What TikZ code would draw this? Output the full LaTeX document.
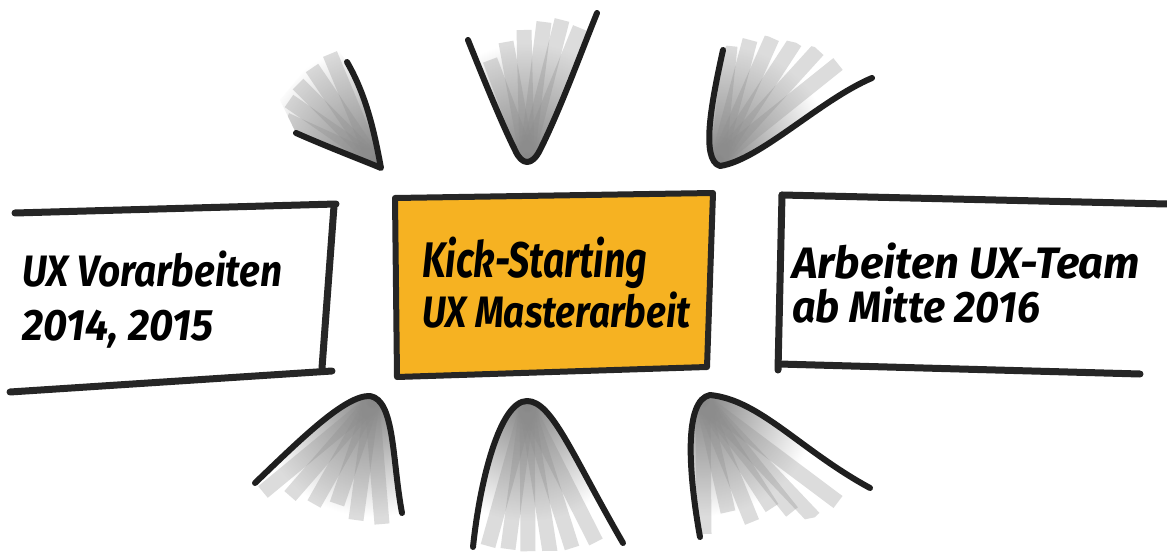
\documentclass[tikz,border=0pt]{standalone}
\usepackage{fontspec}
\usepackage{graphicx}
\newfontfamily\hand{Fira Sans}
\definecolor{marker}{RGB}{246,178,34}
\tikzset{
  ink/.style={line width=6pt, line cap=round, line join=round, draw=black!88},
  boxline/.style={line width=7pt, line cap=round, draw=black!85},
  ray/.style={line width=15pt, draw=black!45, opacity=0.3},
  txt/.style={anchor=base west, inner sep=0pt, font=\hand\bfseries\itshape\fontsize{44}{50}\selectfont},
}
\newcommand\hw[2]{\resizebox{#1}{\height}{#2}}
\newcommand\burst[5]{%
  \begin{scope}
    \clip #1 #2;
    \shade[inner color=black!48, outer color=white] (#3,#4) circle (115);
    \foreach \px/\py in {#5} {
      \draw[ray] (#3,#4) -- (\px,\py);
    }
  \end{scope}
  \draw[ink] #1;
}
\begin{document}
\begin{tikzpicture}[x=1pt,y=-1pt]
\useasboundingbox (0,0) rectangle (1167,556);
\fill[white] (0,0) rectangle (1167,556);

% left box
\draw[boxline] (15,213) -- (336,204);
\draw[boxline] (334,206) -- (322,368);
\draw[boxline] (10,392) -- (332,371);
\node[txt] (l1) at (22,287) {\hw{260pt}{UX Vorarbeiten}};
\node[txt] (l2) at (22,340) {\hw{191pt}{2014, 2015}};

% centre box
\filldraw[fill=marker, line width=6pt, line join=round, draw=black!85]
  (395,198) -- (713,193) -- (707,367) -- (397,377) -- cycle;
\node[txt, font=\hand\bfseries\itshape\fontsize{50}{56}\selectfont] (c1) at (422,277) {\hw{225pt}{Kick-Starting}};
\node[txt] (c2) at (422,327) {\hw{268pt}{UX Masterarbeit}};

% right box
\draw[boxline] (782,195) -- (1167,204);
\draw[boxline] (782,195) -- (778,370);
\draw[boxline] (779,364) -- (1140,374);
\node[txt] (r1) at (792,278) {\hw{348pt}{Arbeiten UX-Team}};
\node[txt] (r2) at (792,322) {\hw{248pt}{ab Mitte 2016}};

% bursts
\burst{(296,133) .. controls (330,148) and (362,160) .. (381,168) .. controls (374,130) and (366,95) .. (347,62)}
  {-- (330,40) -- (280,100) -- cycle}{374}{160}
  {286/120,289/101,298/84,312/68,330/54}
\burst{(468,40) .. controls (490,95) and (505,130) .. (515,150) .. controls (522,166) and (532,166) .. (540,150) .. controls (560,110) and (580,55) .. (597,13)}
  {-- (590,10) -- (470,25) -- cycle}{527}{158}
  {490/60,506/42,524/30,544/22,562/20,580/28}
\burst{(723,50) .. controls (712,100) and (700,160) .. (720,166) .. controls (760,160) and (820,100) .. (872,78)}
  {-- (850,55) -- (740,30) -- cycle}{718}{160}
  {730/46,750/40,772/38,795/42,818/50,838/64}
\burst{(255,483) .. controls (300,440) and (345,395) .. (370,396) .. controls (395,400) and (392,460) .. (402,513)}
  {-- (385,530) -- (255,500) -- cycle}{372}{402}
  {263/492,290/496,314/504,337/504,356/520,382/524}
\burst{(473,547) .. controls (480,480) and (500,401) .. (527,401) .. controls (552,401) and (572,455) .. (623,543)}
  {-- (605,550) -- (480,552) -- cycle}{527}{406}
  {488/546,508/549,528/552,550/552,572/548,596/542}
\burst{(700,537) .. controls (688,470) and (684,400) .. (710,395) .. controls (760,400) and (800,450) .. (870,488)}
  {-- (850,510) -- (705,540) -- cycle}{703}{401}
  {704/534,728/512,752/522,772/508,792/512,814/518,838/502}
\end{tikzpicture}
\end{document}
